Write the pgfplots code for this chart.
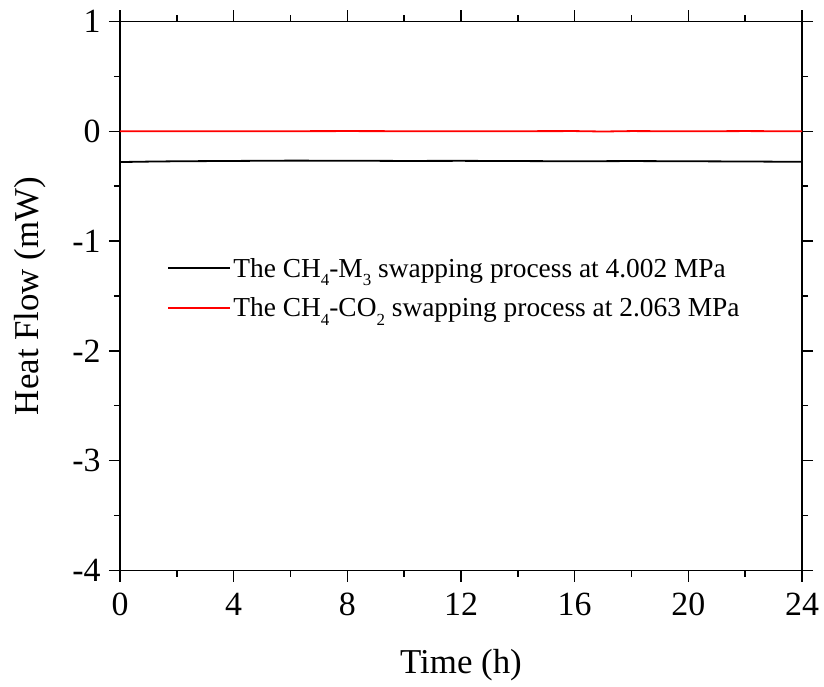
\documentclass[border=0pt]{standalone}
\usepackage{fontspec}
\setmainfont{Liberation Serif}
\usepackage{pgfplots}
\pgfplotsset{compat=1.18}
\newcommand{\sub}[1]{\raisebox{-0.32em}{\fontsize{17}{17}\selectfont #1}}
\begin{document}
\begin{tikzpicture}
\begin{axis}[
  width=682bp, height=549bp, scale only axis,
  xmin=0, xmax=24, ymin=-4, ymax=1,
  xtick={0,4,...,24}, ytick={-4,-3,-2,-1,0,1},
  minor x tick num=1, minor y tick num=1,
  tick align=outside, tick pos=both,
  major tick length=11bp, minor tick length=6bp,
  every tick/.style={line width=1.4bp, black},
  every minor tick/.style={line width=1.4bp, black},
  axis line style={line width=1.5bp},
  /pgf/number format/assume math mode=true,
  tick label style={font=\fontsize{34}{40}\selectfont},
  xticklabel style={yshift=-8bp},
  yticklabel style={xshift=-5bp},
  label style={font=\fontsize{35}{42}\selectfont},
  xlabel={Time (h)}, ylabel={Heat Flow (mW)},
  xlabel style={at={(axis description cs:0.5,-0.173)}, anchor=center},
  ylabel style={at={(axis description cs:-0.132,0.5)}, anchor=center},
  legend style={draw=none, fill=none, inner sep=0pt, at={(rel axis cs:0.0695,0.573)}, anchor=north west,
    font=\fontsize{27.5}{33}\selectfont, row sep=15bp},
  legend cell align=left,
  legend image code/.code={\draw[#1] (0bp,0bp) -- (62bp,0bp);},
]
\addplot[black, line width=1.8bp] coordinates {
(0,-0.28) (1,-0.276) (2,-0.273) (4,-0.27) (6,-0.267) (8,-0.268) (10,-0.27) (12,-0.269) (14,-0.271) (16,-0.273) (18,-0.271) (20,-0.273) (22,-0.275) (24,-0.278)};
\addlegendentry{The CH\sub{4}-M\sub{3} swapping process at 4.002 MPa}
\addplot[red, line width=1.8bp] coordinates {
(0,0) (4,0) (8,0.002) (12,0) (16,0.002) (17,-0.002) (18,0.002) (20,0) (22,0.002) (24,0)};
\addlegendentry{The CH\sub{4}-CO\sub{2} swapping process at 2.063 MPa}
\end{axis}
\pgfresetboundingbox
\path ([shift={(-120bp,-116bp)}]current axis.south west) rectangle ([shift={(22bp,21.5bp)}]current axis.north east);
\end{tikzpicture}
\end{document}
